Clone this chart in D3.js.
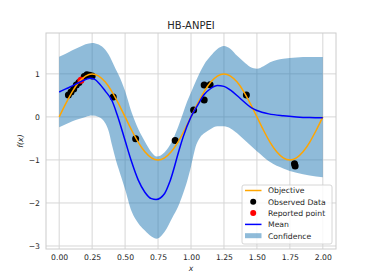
<!DOCTYPE html>
<html>
<head>
<meta charset="utf-8">
<script src="https://cdn.jsdelivr.net/npm/d3@7"></script>
<style>
  body { margin: 0; background: #fff; }
  svg { display: block; font-family: "DejaVu Sans", sans-serif; }
</style>
</head>
<body>
<svg id="chart" width="374" height="280"></svg>
<script>
// values
const title = "HB-ANPEI";
const xTicks = [0, 0.25, 0.5, 0.75, 1, 1.25, 1.5, 1.75, 2];
const yTicks = [-3, -2, -1, 0, 1];

const objectiveX = [0, 0.05, 0.1, 0.15, 0.2, 0.25, 0.3, 0.35, 0.4, 0.45, 0.5, 0.55, 0.6, 0.65, 0.7, 0.75, 0.8, 0.85, 0.9, 0.95, 1,
    1.05, 1.1, 1.15, 1.2, 1.25, 1.3, 1.35, 1.4, 1.45, 1.5, 1.55, 1.6, 1.65, 1.7, 1.75, 1.8, 1.85, 1.9, 1.95, 2];
const objectiveY = [0, 0.31, 0.59, 0.81, 0.95, 1, 0.95, 0.81, 0.59, 0.31, 0, -0.31, -0.59, -0.81, -0.95, -1, -0.95, -0.81, -0.59, -0.31, 0,
    0.31, 0.59, 0.81, 0.95, 1, 0.95, 0.81, 0.59, 0.31, 0, -0.31, -0.59, -0.81, -0.95, -1, -0.95, -0.81, -0.59, -0.31, 0];

const meanX = [0, 0.05, 0.1, 0.15, 0.2, 0.235, 0.27, 0.3, 0.35, 0.4, 0.44, 0.5, 0.55, 0.6, 0.65, 0.7, 0.735, 0.8, 0.84, 0.91, 0.94,
    1, 1.05, 1.1, 1.15, 1.2, 1.25, 1.3, 1.37, 1.46, 1.5, 1.59, 1.7, 1.8, 1.9, 2];
const meanY = [0.58, 0.65, 0.72, 0.8, 0.87, 0.9, 0.87, 0.79, 0.6, 0.38, 0.05, -0.55, -1.05, -1.47, -1.75, -1.9, -1.92, -1.78, -1.5, -0.77, -0.47,
    0, 0.27, 0.52, 0.66, 0.73, 0.71, 0.62, 0.44, 0.21, 0.15, 0.07, 0.025, 0, -0.015, -0.02];

const bandX = [0, 0.05, 0.1, 0.15, 0.2, 0.25, 0.3, 0.35, 0.375, 0.4, 0.43, 0.45, 0.5, 0.55, 0.6, 0.65, 0.7, 0.74, 0.8, 0.86,
    0.9, 0.94, 0.97, 1, 1.04, 1.07, 1.1, 1.15, 1.2, 1.25, 1.3, 1.35, 1.4, 1.45, 1.5, 1.55, 1.6, 1.7, 1.8, 1.9, 2];
const upperY = [1.4, 1.47, 1.55, 1.62, 1.69, 1.72, 1.68, 1.56, 1.45, 1.3, 1.1, 0.98, 0.6, 0.1, -0.28, -0.57, -0.82, -0.92, -0.82, -0.54,
    -0.25, 0.09, 0.35, 0.57, 0.85, 1.05, 1.22, 1.42, 1.58, 1.65, 1.58, 1.42, 1.28, 1.16, 1.12, 1.18, 1.27, 1.35, 1.38, 1.39, 1.39];
const lowerY = [-0.24, -0.17, -0.1, -0.05, 0, 0.03, 0, -0.15, -0.33, -0.65, -1, -1.2, -1.68, -2.2, -2.47, -2.64, -2.78, -2.83, -2.67, -2.33,
    -2.1, -1.78, -1.5, -1.15, -0.65, -0.47, -0.38, -0.28, -0.22, -0.22, -0.27, -0.38, -0.52, -0.66, -0.8, -0.93, -1.05, -1.2, -1.3, -1.36, -1.4];

const observedX = [0.07, 0.09, 0.11, 0.13, 0.15, 0.19, 0.21, 0.23, 0.25, 0.41, 0.58, 0.88, 1.02, 1.1, 1.1, 1.145, 1.42, 1.785, 1.79];
const observedY = [0.51, 0.58, 0.65, 0.74, 0.8, 0.94, 0.98, 0.97, 0.95, 0.46, -0.51, -0.55, 0.16, 0.74, 0.39, 0.75, 0.51, -1.09, -1.14];
const reportedX = [0.165];
const reportedY = [0.85];

const legendLabels = ["Objective", "Observed Data", "Reported point", "Mean", "Confidence"];

const svg = d3.select("#chart");
const plotLeft = 46, plotRight = 336, plotTop = 33, plotBottom = 249;

let x = d3.scaleLinear().domain([-0.1, 2.1]).range([plotLeft, plotRight]);
let y = d3.scaleLinear().domain([-3.07, 1.95]).range([plotBottom, plotTop]);

// grid
let grid = svg.append("g");
grid.selectAll(".vx").data(xTicks).enter().append("line")
    .attr("x1", d => x(d)).attr("x2", d => x(d))
    .attr("y1", plotTop).attr("y2", plotBottom)
    .attr("stroke", "#d6d6d6").attr("stroke-width", 1);
grid.selectAll(".hy").data(yTicks).enter().append("line")
    .attr("x1", plotLeft).attr("x2", plotRight)
    .attr("y1", d => y(d)).attr("y2", d => y(d))
    .attr("stroke", "#d6d6d6").attr("stroke-width", 1);

// confidence band
let band = bandX.map((d, i) => ({x: d, lo: lowerY[i], hi: upperY[i]}));
let area = d3.area()
    .x(d => x(d.x))
    .y0(d => y(d.lo))
    .y1(d => y(d.hi))
    .curve(d3.curveMonotoneX);
svg.append("path").attr("d", area(band))
    .attr("fill", "#1f77b4").attr("fill-opacity", 0.5);

// points
svg.append("g").selectAll("circle")
    .data(observedX.map((d, i) => [d, observedY[i]]))
    .enter().append("circle")
    .attr("cx", d => x(d[0])).attr("cy", d => y(d[1]))
    .attr("r", 3.5).attr("fill", "black");
svg.append("g").selectAll("circle")
    .data(reportedX.map((d, i) => [d, reportedY[i]]))
    .enter().append("circle")
    .attr("cx", d => x(d[0])).attr("cy", d => y(d[1]))
    .attr("r", 3.5).attr("fill", "red");

// lines
let line = d3.line().x(d => x(d[0])).y(d => y(d[1])).curve(d3.curveMonotoneX);
svg.append("path").attr("d", line(objectiveX.map((d, i) => [d, objectiveY[i]])))
    .attr("fill", "none").attr("stroke", "orange").attr("stroke-width", 1.5);
svg.append("path").attr("d", line(meanX.map((d, i) => [d, meanY[i]])))
    .attr("fill", "none").attr("stroke", "blue").attr("stroke-width", 1.5);

// frame
svg.append("rect").attr("x", plotLeft).attr("y", plotTop)
    .attr("width", plotRight - plotLeft).attr("height", plotBottom - plotTop)
    .attr("fill", "none").attr("stroke", "#cccccc").attr("stroke-width", 1);

// axes
let xAxis = d3.axisBottom(x).tickValues(xTicks).tickSize(0).tickPadding(6)
    .tickFormat(d3.format(".2f"));
let gx = svg.append("g").attr("transform", "translate(0," + plotBottom + ")").call(xAxis);
let yAxis = d3.axisLeft(y).tickValues(yTicks).tickSize(0).tickPadding(6)
    .tickFormat(d => d < 0 ? "\u2212" + Math.abs(d) : d);
let gy = svg.append("g").attr("transform", "translate(" + plotLeft + ",0)").call(yAxis);
[gx, gy].forEach(g => {
    g.select(".domain").remove();
    g.selectAll("text").attr("fill", "#262626").attr("font-size", 7.7)
        .attr("font-family", "DejaVu Sans");
});

svg.append("text").attr("x", (plotLeft + plotRight) / 2).attr("y", 28.5)
    .attr("text-anchor", "middle").attr("font-size", 10).attr("fill", "#262626")
    .text(title);
svg.append("text").attr("x", (plotLeft + plotRight) / 2).attr("y", 271)
    .attr("text-anchor", "middle").attr("font-size", 7.7).attr("font-style", "italic")
    .attr("fill", "#262626").text("x");
svg.append("text").attr("transform", "translate(23," + ((plotTop + plotBottom) / 2) + ") rotate(-90)")
    .attr("text-anchor", "middle").attr("font-size", 7.7).attr("font-style", "italic")
    .attr("fill", "#262626").text("f(x)");

// legend
let lg = svg.append("g").attr("transform", "translate(242,185)");
lg.append("rect").attr("width", 90).attr("height", 59).attr("rx", 2)
    .attr("fill", "white").attr("fill-opacity", 0.8)
    .attr("stroke", "#cccccc").attr("stroke-width", 0.8);
let rows = lg.selectAll(".row").data(legendLabels).enter().append("g")
    .attr("transform", (d, i) => "translate(0," + (5.5 + i * 11.3) + ")");
rows.append("text").attr("x", 26).attr("y", 2.8)
    .attr("font-size", 7.7).attr("fill", "#262626").text(d => d);
rows.each(function (d, i) {
    let r = d3.select(this);
    if (i === 0 || i === 3) {
        r.append("line").attr("x1", 3).attr("x2", 19.5)
            .attr("stroke", i === 0 ? "orange" : "blue").attr("stroke-width", 1.5);
    } else if (i === 4) {
        r.append("rect").attr("x", 3).attr("y", -2.5).attr("width", 16.5).attr("height", 5)
            .attr("fill", "#1f77b4").attr("fill-opacity", 0.5);
    } else {
        r.append("circle").attr("cx", 11.2).attr("r", 3)
            .attr("fill", i === 1 ? "black" : "red");
    }
});
</script>
</body>
</html>
